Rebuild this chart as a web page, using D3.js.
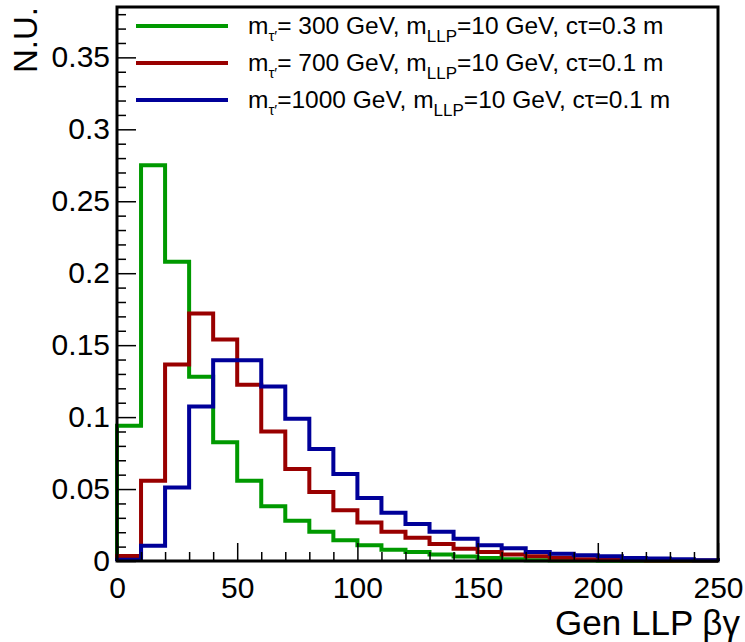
<!DOCTYPE html>
<html>
<head>
<meta charset="utf-8">
<script src="https://cdn.jsdelivr.net/npm/d3@7"></script>
<style>
body { margin: 0; background: #fff; }
text { font-family: "Liberation Sans", Arial, sans-serif; }
</style>
</head>
<body>
<script>
// bin edges 0..250, width 10
var binEdges = d3.range(0, 251, 10);
var green = [0.094, 0.275, 0.208, 0.128, 0.0825, 0.0558, 0.038, 0.028, 0.0204, 0.0144, 0.0110, 0.0078, 0.0063, 0.0046, 0.0032, 0.0021, 0.0012, 0.0006, 0.0004, 0.0003, 0.0002, 0.0002, 0.0001, 0.0001, 0.0001];
var red = [0.0035, 0.0558, 0.1365, 0.172, 0.154, 0.1225, 0.090, 0.064, 0.048, 0.0353, 0.0267, 0.0204, 0.0162, 0.0118, 0.0085, 0.0062, 0.0045, 0.0033, 0.0022, 0.0012, 0.0008, 0.0006, 0.0004, 0.0003, 0.0003];
var blue = [0.0008, 0.0106, 0.0511, 0.1074, 0.1395, 0.1395, 0.1213, 0.0988, 0.0779, 0.0605, 0.0437, 0.0335, 0.0257, 0.0203, 0.0155, 0.0110, 0.0088, 0.0063, 0.0050, 0.0040, 0.0033, 0.0021, 0.0018, 0.0012, 0.0006];
var xMajor = [0, 50, 100, 150, 200, 250];
var yMajor = [0, 0.05, 0.1, 0.15, 0.2, 0.25, 0.3, 0.35];
var legendItems = [
    {mass: "= 300 GeV, m", ctau: "=10 GeV, cτ=0.3 m", color: "#009900", values: green},
    {mass: "= 700 GeV, m", ctau: "=10 GeV, cτ=0.1 m", color: "#990000", values: red},
    {mass: "=1000 GeV, m", ctau: "=10 GeV, cτ=0.1 m", color: "#000099", values: blue}
];

var W = 745, H = 642;
var fL = 117, fR = 718, fT = 7, fB = 561;

var svg = d3.select('body').append('svg')
    .attr('width', W)
    .attr('height', H);
svg.append('rect').attr('width', W).attr('height', H).attr('fill', '#fff');

var xScale = d3.scaleLinear().domain([0, 250]).range([fL, fR]);
var yScale = d3.scaleLinear().domain([0, 0.385]).range([fB, fT]);

// histograms as steps
function stepPath(vals){
    var p = d3.path();
    p.moveTo(xScale(binEdges[0]), yScale(0));
    vals.forEach(function(v, i){
        p.lineTo(xScale(binEdges[i]), yScale(v));
        p.lineTo(xScale(binEdges[i + 1]), yScale(v));
    });
    p.lineTo(xScale(binEdges[vals.length]), yScale(0));
    return p.toString();
}
svg.selectAll('.hist')
    .data(legendItems)
    .enter().append('path')
    .attr('class', 'hist')
    .attr('d', function(d){ return stepPath(d.values); })
    .attr('fill', 'none')
    .attr('stroke', function(d){ return d.color; })
    .attr('stroke-width', 4)
    .attr('stroke-linejoin', 'miter');

// axes, ticks inside the frame
var yMinor = d3.range(0, 0.3801, 0.01).filter(function(v){ return Math.round(v * 100) % 5 !== 0; });
var xMinor = d3.range(0, 251, 10).filter(function(v){ return v % 50 !== 0; });

svg.append('g')
    .attr('transform', 'translate(' + fL + ',0)')
    .call(d3.axisLeft(yScale).tickValues(yMinor).tickSize(-9).tickFormat(''))
    .call(function(g){ g.select('.domain').remove(); });
svg.append('g')
    .attr('class', 'y axis')
    .attr('transform', 'translate(' + fL + ',0)')
    .call(d3.axisLeft(yScale).tickValues(yMajor).tickSize(-19).tickPadding(7)
        .tickFormat(function(d){ return String(+d.toFixed(2)); }))
    .call(function(g){ g.select('.domain').remove(); });

svg.append('g')
    .attr('transform', 'translate(0,' + fB + ')')
    .call(d3.axisBottom(xScale).tickValues(xMinor).tickSize(-9).tickFormat(''))
    .call(function(g){ g.select('.domain').remove(); });
svg.append('g')
    .attr('class', 'x axis')
    .attr('transform', 'translate(0,' + fB + ')')
    .call(d3.axisBottom(xScale).tickValues(xMajor).tickSize(-18).tickPadding(16))
    .call(function(g){ g.select('.domain').remove(); });

svg.selectAll('.tick line').attr('stroke', '#000').attr('stroke-width', 1.5);
svg.selectAll('.axis text')
    .attr('font-family', '"Liberation Sans", Arial, sans-serif')
    .attr('font-size', 30)
    .attr('fill', '#000');

// frame
svg.append('rect')
    .attr('x', fL).attr('y', fT)
    .attr('width', fR - fL).attr('height', fB - fT)
    .attr('fill', 'none')
    .attr('stroke', '#000')
    .attr('stroke-width', 3);

// titles
svg.append('text')
    .attr('x', 740).attr('y', 635)
    .attr('text-anchor', 'end')
    .attr('font-size', 35)
    .text('Gen LLP βγ');
svg.append('text')
    .attr('transform', 'translate(37,7) rotate(-90)')
    .attr('text-anchor', 'end')
    .attr('font-size', 33)
    .text('N.U.');

// legend
var leg = svg.selectAll('.leg')
    .data(legendItems)
    .enter().append('g')
    .attr('class', 'leg')
    .attr('transform', function(d, i){ return 'translate(0,' + (26 + i * 37) + ')'; });
leg.append('line')
    .attr('x1', 136).attr('x2', 228)
    .attr('stroke', function(d){ return d.color; })
    .attr('stroke-width', 4);
var lt = leg.append('text')
    .attr('x', 248).attr('y', 8)
    .attr('font-size', 24.5);
lt.append('tspan').text('m');
lt.append('tspan').attr('dy', 7).attr('font-size', 15).text('τ′');
lt.append('tspan').attr('dy', -7).text(function(d){ return d.mass; });
lt.append('tspan').attr('dy', 8).attr('font-size', 17).text('LLP');
lt.append('tspan').attr('dy', -8).text(function(d){ return d.ctau; });
</script>
</body>
</html>
